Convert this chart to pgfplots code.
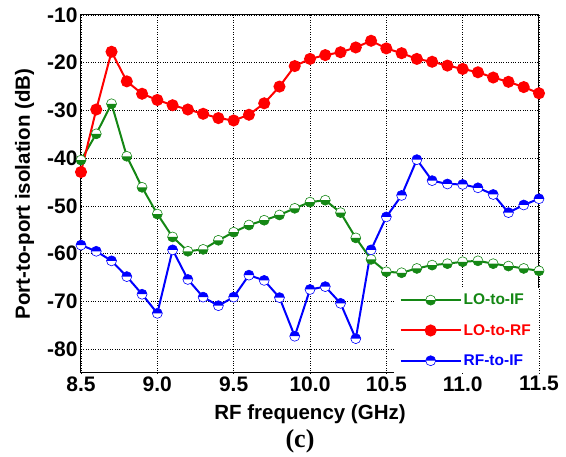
\documentclass[border=0pt]{standalone}
\usepackage{pgfplots}
\pgfplotsset{compat=1.18}
\usepackage{fontspec}
\setmainfont{Liberation Sans}
\newfontfamily\seriffont{Liberation Serif}
\usetikzlibrary{plotmarks}
\definecolor{cgreen}{RGB}{20,135,20}
\definecolor{cred}{RGB}{255,0,0}
\definecolor{cblue}{RGB}{0,0,255}
\pgfdeclareplotmark{halfblue}{%
  \pgfpathcircle{\pgfpointorigin}{\pgfplotmarksize}%
  \pgfsetfillcolor{white}\pgfusepathqfill
  \pgfpathmoveto{\pgfqpoint{\pgfplotmarksize}{0pt}}%
  \pgfpatharc{0}{180}{\pgfplotmarksize}%
  \pgfpathclose
  \pgfsetfillcolor{cblue}\pgfusepathqfill
  \pgfpathcircle{\pgfpointorigin}{\pgfplotmarksize}%
  \pgfusepathqstroke
}
\pgfdeclareplotmark{halfgreen}{%
  \pgfpathcircle{\pgfpointorigin}{\pgfplotmarksize}%
  \pgfsetfillcolor{white}\pgfusepathqfill
  \pgfpathmoveto{\pgfqpoint{\pgfplotmarksize}{0pt}}%
  \pgfpatharc{0}{-180}{\pgfplotmarksize}%
  \pgfpathclose
  \pgfsetfillcolor{cgreen}\pgfusepathqfill
  \pgfpathcircle{\pgfpointorigin}{\pgfplotmarksize}%
  \pgfusepathqstroke
}
\begin{document}
\begin{tikzpicture}
\useasboundingbox (-81pt,-84pt) rectangle (485pt,373pt);
\begin{axis}[
  scale only axis, width=458pt, height=358pt,
  xmin=8.5, xmax=11.5, ymin=-85, ymax=-10,
  xtick={8.5,9.0,9.5,10.0,10.5,11.0,11.5},
  ytick={-80,-70,-60,-50,-40,-30,-20,-10},
  xticklabel style={/pgf/number format/.cd,fixed,fixed zerofill,precision=1},
  /pgf/number format/assume math mode=true,
  tick label style={font=\fontsize{21}{24}\selectfont\bfseries},
  label style={font=\fontsize{20.5}{24}\selectfont\bfseries},
  xlabel={RF frequency (GHz)},
  ylabel={Port-to-port isolation (dB)},
  xlabel style={yshift=-6pt},
  ylabel style={yshift=6pt},
  major tick length=0pt,
  grid=major,
  grid style={black, dotted, line width=0.8pt},
  axis line style={black, line width=1pt},
  legend style={at={(1,0)}, anchor=south east, draw=none, fill=white,
    font=\fontsize{15.5}{18}\selectfont\bfseries, row sep=14pt,
    inner xsep=6pt, inner ysep=4pt},
  legend cell align=left,
  legend image code/.code={\draw[mark repeat=2,mark phase=2] plot coordinates {(0pt,0pt) (30pt,0pt) (60pt,0pt)};},
]
\addplot[cgreen, line width=2pt, mark=halfgreen, mark size=5pt, mark options={line width=0.6pt}] coordinates {
(8.5,-40.4) (8.6,-34.9) (8.7,-28.6) (8.8,-39.6) (8.9,-46.1) (9.0,-51.7)
(9.1,-56.5) (9.2,-59.5) (9.3,-59.1) (9.4,-57.2) (9.5,-55.5) (9.6,-54.0)
(9.7,-53.0) (9.8,-51.9) (9.9,-50.5) (10.0,-49.2) (10.1,-48.8) (10.2,-51.4)
(10.3,-56.7) (10.4,-61.2) (10.5,-63.8) (10.6,-64.0) (10.7,-63.1) (10.8,-62.4)
(10.9,-62.1) (11.0,-61.7) (11.1,-61.5) (11.2,-62.1) (11.3,-62.6) (11.4,-63.1) (11.5,-63.6)};
\addlegendentry{\textcolor{cgreen}{LO-to-IF}}
\addplot[cred, line width=2pt, mark=*, mark size=5pt, mark options={fill=cred}] coordinates {
(8.5,-42.9) (8.6,-29.8) (8.7,-17.7) (8.8,-23.9) (8.9,-26.5) (9.0,-27.8)
(9.1,-28.9) (9.2,-29.8) (9.3,-30.7) (9.4,-31.6) (9.5,-32.1) (9.6,-30.9)
(9.7,-28.5) (9.8,-25.0) (9.9,-20.7) (10.0,-19.2) (10.1,-18.4) (10.2,-17.8)
(10.3,-16.8) (10.4,-15.4) (10.5,-17.0) (10.6,-18.0) (10.7,-19.2) (10.8,-19.8)
(10.9,-20.6) (11.0,-21.3) (11.1,-22.0) (11.2,-23.1) (11.3,-24.0) (11.4,-25.1) (11.5,-26.4)};
\addlegendentry{\textcolor{cred}{LO-to-RF}}
\addplot[cblue, line width=2pt, mark=halfblue, mark size=5pt, mark options={line width=0.6pt}] coordinates {
(8.5,-58.2) (8.6,-59.5) (8.7,-61.5) (8.8,-64.8) (8.9,-68.5) (9.0,-72.5)
(9.1,-59.2) (9.2,-65.4) (9.3,-69.1) (9.4,-70.9) (9.5,-69.1) (9.6,-64.5)
(9.7,-65.6) (9.8,-69.2) (9.9,-77.3) (10.0,-67.5) (10.1,-66.9) (10.2,-70.4)
(10.3,-77.8) (10.4,-59.2) (10.5,-52.3) (10.6,-47.8) (10.7,-40.3) (10.8,-44.7)
(10.9,-45.4) (11.0,-45.5) (11.1,-46.2) (11.2,-47.6) (11.3,-51.4) (11.4,-49.8) (11.5,-48.5)};
\addlegendentry{\textcolor{cblue}{RF-to-IF}}
\end{axis}
\node at (219pt,-68pt) {\seriffont\bfseries\fontsize{26}{30}\selectfont (c)};
\end{tikzpicture}
\end{document}
